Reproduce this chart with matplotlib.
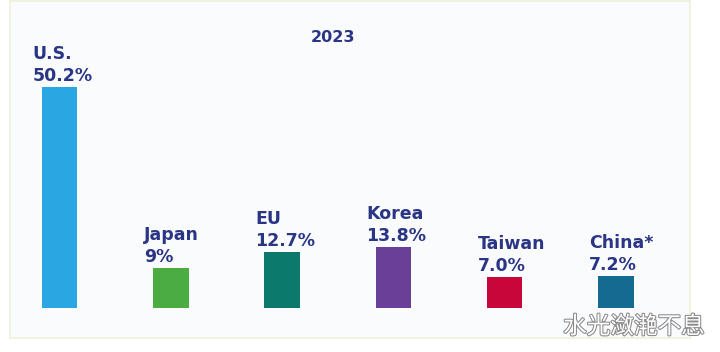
import matplotlib.pyplot as plt
import matplotlib.patheffects as pe
from matplotlib.patches import Rectangle

regions = ["U.S.", "Japan", "EU", "Korea", "Taiwan", "China*"]
shares = [50.2, 9.0, 12.7, 13.8, 7.0, 7.2]
share_labels = ["50.2%", "9%", "12.7%", "13.8%", "7.0%", "7.2%"]
colors = ["#2aa7e2", "#4aac42", "#0b7a6d", "#6a3f98", "#c8063a", "#156a92"]
title = "2023"
watermark = "水光潋滟不息"

text_color = "#2b3585"

fig = plt.figure(figsize=(7.2, 3.52), dpi=100)
fig.patch.set_facecolor("white")

# light panel behind the chart
panel = Rectangle((10 / 720, 14 / 352), 680 / 720, 337 / 352, transform=fig.transFigure,
                  facecolor="#f9fbfd", edgecolor="#eef0dc", linewidth=1.2, zorder=-5)
fig.patches.append(panel)

ax = fig.add_axes([15 / 720, 44 / 352, 701 / 720, 264 / 352])
ax.set_facecolor("none")
ax.set_zorder(2)

x = list(range(len(regions)))
ax.bar(x, shares, width=0.32, color=colors, zorder=2)
ax.set_xlim(-0.4, 5.9)
ax.set_ylim(0, 60)
ax.axis("off")

for xi, name, val, lab in zip(x, regions, shares, share_labels):
    ax.annotate(lab, xy=(xi, val), xytext=(-27, 2), textcoords="offset pixels",
                ha="left", va="bottom", fontsize=12.5, fontweight="bold", color=text_color,
                annotation_clip=False)
    ax.annotate(name, xy=(xi, val), xytext=(-27, 24), textcoords="offset pixels",
                ha="left", va="bottom", fontsize=12.5, fontweight="bold", color=text_color,
                annotation_clip=False)

fig.text(333 / 720, 1 - 37 / 352, title, ha="center", va="center",
         fontsize=11.5, fontweight="bold", color=text_color, zorder=3)

fig.text(634 / 720, 1 - 327 / 352, watermark, ha="center", va="center",
         fontsize=17, color="white", family=["Noto Sans CJK SC", "DejaVu Sans"],
         path_effects=[pe.withStroke(linewidth=1.5, foreground="#8a8a8a")], zorder=5)

plt.savefig("out.png", dpi=100)
